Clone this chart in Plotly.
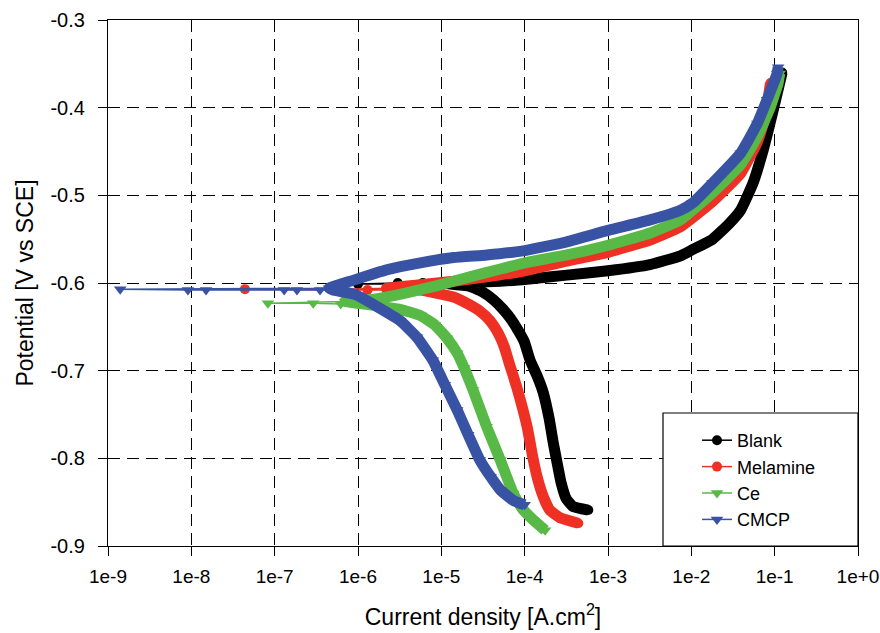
import plotly.graph_objects as go

# ---------------- data ----------------
series_names = ["Blank", "Melamine", "Ce", "CMCP"]

blank_cath_i = [5.8e-4, 3.8e-4, 3.15e-4, 2.74e-4, 2.45e-4, 2.2e-4, 1.97e-4, 1.67e-4, 1.41e-4, 1.16e-4, 9.9e-5, 8.1e-5, 6.7e-5, 5.5e-5, 4.2e-5, 3.1e-5, 2.2e-5, 1.2e-5]
blank_cath_E = [-0.859, -0.855, -0.846, -0.828, -0.805, -0.782, -0.755, -0.725, -0.706, -0.688, -0.667, -0.652, -0.640, -0.630, -0.619, -0.610, -0.604, -0.601]
blank_ecorr_i = [6.0e-6, 3.0e-6, 1.0e-6]
blank_ecorr_E = [-0.600, -0.600, -0.601]
blank_anod_i = [1.2e-5, 2.5e-5, 5.1e-5, 1.0e-4, 3.2e-4, 1.0e-3, 3.2e-3, 7.4e-3, 1.03e-2, 1.8e-2, 2.8e-2, 3.9e-2, 5.5e-2, 7.3e-2, 9.6e-2, 1.23e-1]
blank_anod_E = [-0.601, -0.599, -0.598, -0.596, -0.591, -0.586, -0.579, -0.569, -0.562, -0.550, -0.533, -0.517, -0.486, -0.448, -0.403, -0.360]

mel_cath_i = [4.4e-4, 2.67e-4, 2.0e-4, 1.66e-4, 1.41e-4, 1.26e-4, 1.07e-4, 8.1e-5, 6.5e-5, 5.7e-5, 4.8e-5, 3.85e-5, 2.9e-5, 2.2e-5, 1.4e-5, 5.6e-6]
mel_cath_E = [-0.874, -0.868, -0.859, -0.843, -0.821, -0.800, -0.764, -0.720, -0.691, -0.673, -0.657, -0.643, -0.632, -0.625, -0.616, -0.608]
mel_ecorr_i = [1.3e-6, 4.4e-8, 6.6e-7]
mel_ecorr_E = [-0.608, -0.607, -0.607]
mel_anod_i = [2.2e-6, 5.6e-6, 1.4e-5, 3.5e-5, 1.0e-4, 3.2e-4, 1.0e-3, 3.2e-3, 7.4e-3, 1.8e-2, 3.9e-2, 6.2e-2, 7.7e-2, 8.9e-2]
mel_anod_E = [-0.606, -0.602, -0.598, -0.593, -0.586, -0.575, -0.565, -0.551, -0.536, -0.507, -0.475, -0.439, -0.411, -0.372]

ce_cath_i = [1.76e-4, 1.26e-4, 9.3e-5, 7.3e-5, 5.1e-5, 3.5e-5, 2.4e-5, 1.88e-5, 1.55e-5, 1.17e-5, 8.4e-6, 5.6e-6, 3.2e-6, 1.4e-6]
ce_cath_E = [-0.882, -0.870, -0.857, -0.840, -0.802, -0.764, -0.722, -0.697, -0.680, -0.663, -0.648, -0.637, -0.630, -0.625]
ce_ecorr_i = [6.2e-7, 2.9e-7, 8.3e-8]
ce_ecorr_E = [-0.624, -0.623, -0.623]
ce_anod_i = [7.0e-7, 1.4e-6, 3.5e-6, 8.9e-6, 2.2e-5, 5.1e-5, 1.0e-4, 3.2e-4, 1.0e-3, 3.2e-3, 7.4e-3, 1.8e-2, 3.9e-2, 6.2e-2, 8.9e-2, 1.1e-1, 1.15e-1]
ce_anod_E = [-0.621, -0.619, -0.612, -0.603, -0.593, -0.584, -0.577, -0.568, -0.557, -0.543, -0.528, -0.497, -0.465, -0.433, -0.399, -0.372, -0.361]

cmcp_cath_i = [1.0e-4, 7.3e-5, 5.1e-5, 3.9e-5, 2.9e-5, 2.1e-5, 1.55e-5, 1.1e-5, 7.9e-6, 5.1e-6, 3.2e-6, 1.7e-6, 9.2e-7, 5.0e-7]
cmcp_cath_E = [-0.853, -0.848, -0.836, -0.821, -0.802, -0.773, -0.745, -0.716, -0.688, -0.662, -0.643, -0.627, -0.613, -0.608]
cmcp_ecorr_i = [3.5e-7, 1.85e-7, 1.3e-7, 1.5e-8, 9.1e-9, 1.4e-9]
cmcp_ecorr_E = [-0.608, -0.608, -0.608, -0.608, -0.608, -0.607]
cmcp_anod_i = [4.5e-7, 8.7e-7, 2.2e-6, 5.6e-6, 1.4e-5, 3.5e-5, 1.0e-4, 3.2e-4, 1.0e-3, 3.2e-3, 7.4e-3, 1.03e-2, 1.8e-2, 3.9e-2, 6.2e-2, 8.1e-2, 1.07e-1, 1.1e-1]
cmcp_anod_E = [-0.606, -0.597, -0.585, -0.577, -0.571, -0.568, -0.563, -0.553, -0.540, -0.528, -0.517, -0.509, -0.486, -0.452, -0.418, -0.391, -0.361, -0.354]

x_tick_vals = [1e-9, 1e-8, 1e-7, 1e-6, 1e-5, 1e-4, 1e-3, 1e-2, 1e-1, 1e0]
x_tick_text = ["1e-9", "1e-8", "1e-7", "1e-6", "1e-5", "1e-4", "1e-3", "1e-2", "1e-1", "1e+0"]
y_tick_vals = [-0.9, -0.8, -0.7, -0.6, -0.5, -0.4, -0.3]
y_tick_text = ["-0.9", "-0.8", "-0.7", "-0.6", "-0.5", "-0.4", "-0.3"]

# ---------------- styling ----------------
colors = ["#000000", "#ee3124", "#58b947", "#3953a4"]
symbols = ["circle", "circle", "triangle-down", "triangle-down"]
msize = [10, 10, 11, 11]

data = [
    (blank_cath_i, blank_cath_E, blank_ecorr_i, blank_ecorr_E, blank_anod_i, blank_anod_E),
    (mel_cath_i, mel_cath_E, mel_ecorr_i, mel_ecorr_E, mel_anod_i, mel_anod_E),
    (ce_cath_i, ce_cath_E, ce_ecorr_i, ce_ecorr_E, ce_anod_i, ce_anod_E),
    (cmcp_cath_i, cmcp_cath_E, cmcp_ecorr_i, cmcp_ecorr_E, cmcp_anod_i, cmcp_anod_E),
]

fig = go.Figure()
for k, name in enumerate(series_names):
    ci, cE, ei, eE, ai, aE = data[k]
    # thick band (dense measurement region)
    fig.add_trace(go.Scatter(
        x=ci + ai, y=cE + aE, mode="lines",
        line=dict(color=colors[k], width=11, shape="spline", smoothing=0.4),
        showlegend=False, hoverinfo="skip"))
    # measured points with thin connecting line
    fig.add_trace(go.Scatter(
        x=ci + ei + ai, y=cE + eE + aE, mode="lines+markers", name=name,
        line=dict(color=colors[k], width=1.5),
        marker=dict(symbol=symbols[k], size=msize[k], color=colors[k])))

font_family = "Liberation Sans, Arial, sans-serif"

fig.update_layout(
    width=880, height=633,
    margin=dict(l=108, r=22, t=20, b=87),
    paper_bgcolor="white", plot_bgcolor="white",
    font=dict(family=font_family, color="black", size=19),
    xaxis=dict(
        type="log", range=[-9, 0], automargin=False,
        tickvals=x_tick_vals, ticktext=x_tick_text,
        showline=True, linecolor="black", linewidth=1.2, mirror=True,
        ticks="outside", ticklen=9, tickcolor="black", tickwidth=1.2,
        ticklabelstandoff=4,
        showgrid=True, gridcolor="black", gridwidth=1, griddash="12px,7px",
        zeroline=False,
        tickfont=dict(size=19),
        title=dict(text="Current density [A.cm<sup>2</sup>]", font=dict(size=23), standoff=22),
    ),
    yaxis=dict(
        range=[-0.9, -0.3], automargin=False,
        tickvals=y_tick_vals, ticktext=y_tick_text,
        showline=True, linecolor="black", linewidth=1.2, mirror=True,
        ticks="outside", ticklen=9, tickcolor="black", tickwidth=1.2,
        ticklabelstandoff=9,
        showgrid=True, gridcolor="black", gridwidth=1, griddash="12px,7px",
        zeroline=False,
        tickfont=dict(size=20),
        title=dict(text="Potential [V vs SCE]", font=dict(size=23), standoff=10),
    ),
    legend=dict(
        x=(697 - 108) / 750, y=(546 - 422) / 526, xanchor="left", yanchor="top",
        bgcolor="rgba(0,0,0,0)", borderwidth=0,
        font=dict(size=18), tracegroupgap=0,
    ),
    shapes=[dict(type="rect", xref="paper", yref="paper",
                 x0=(663 - 108) / 750, x1=1, y0=0, y1=(546 - 413) / 526,
                 line=dict(color="black", width=1.2), fillcolor="white", layer="above")],
    showlegend=True,
)

fig.write_html("out.html", config={"displayModeBar": False},
               post_script="document.body.style.margin='0px';document.body.style.overflow='hidden';")
